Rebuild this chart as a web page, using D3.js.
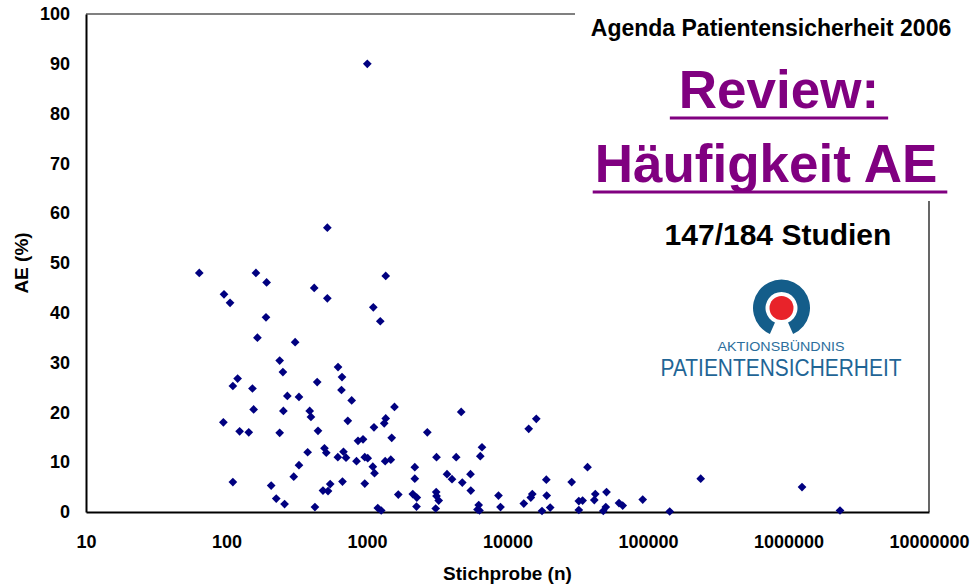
<!DOCTYPE html>
<html>
<meta charset="utf-8">
<script src="https://d3js.org/d3.v7.min.js"></script>
<style>
  body { margin: 0; background: #fff; }
  text { font-family: Arial, "Liberation Sans", sans-serif; }
</style>
<body>
<div id="vis"></div>
<script>

// sample size (n) and adverse event rate (%) per study
const sampleSize = [
  64, 162, 193, 96, 106, 191, 166, 308, 239, 522,
  421, 522, 1359, 1109, 1243, 1005, 622, 664, 658, 778,
  442, 252, 120, 111, 153, 271, 328, 1569, 156, 254,
  391, 399, 730, 95, 1359, 1326, 1121, 124, 144, 239,
  448, 863, 937, 1499, 498, 513, 680, 620, 709, 842,
  964, 1012, 1347, 1477, 378, 328, 1100, 1131, 301, 111,
  208, 669, 547, 964, 486, 528, 226, 259, 426, 1193,
  1262, 1670, 4682, 2687, 14154, 16032, 6583, 6402, 3124, 4313,
  2189, 2189, 3711, 4027, 5453, 4767, 5480, 2118, 2262, 2251,
  3108, 3124, 3238, 3083, 6237, 6116, 6319, 8627, 8915, 13062,
  14648, 15014, 18891, 19011, 20130, 17600, 28637, 37110, 32180, 34240,
  32180, 42150, 41470, 50660, 50080, 48070, 62170, 66060, 91690, 142700,
  237200, 1248000, 2326000
];
const aeRate = [
  48.0, 48.0, 46.1, 43.7, 42.0, 39.1, 35.0, 34.1, 30.4, 57.1,
  45.0, 42.9, 47.4, 41.1, 38.3, 90.0, 29.1, 27.1, 24.5, 22.4,
  26.1, 28.1, 26.8, 25.3, 24.8, 23.3, 23.1, 21.1, 20.6, 20.3,
  20.3, 19.1, 18.3, 18.0, 18.8, 17.8, 17.0, 16.2, 16.0, 15.9,
  16.3, 14.3, 14.6, 14.9, 12.8, 11.9, 12.1, 11.0, 10.9, 10.2,
  11.0, 10.8, 10.2, 10.5, 12.0, 9.4, 9.1, 7.8, 7.1, 6.0,
  5.3, 6.1, 5.6, 5.7, 4.3, 4.2, 2.7, 1.6, 1.0, 0.8,
  0.3, 3.5, 20.1, 16.0, 16.7, 18.7, 13.0, 11.2, 11.0, 11.0,
  9.0, 6.7, 7.6, 6.6, 7.6, 5.9, 4.3, 3.6, 2.9, 1.1,
  4.0, 3.2, 2.3, 0.7, 1.4, 0.5, 0.3, 3.3, 1.0, 1.7,
  2.9, 3.6, 6.5, 3.3, 0.9, 0.2, 6.0, 9.0, 2.2, 2.3,
  0.4, 3.6, 2.4, 4.0, 1.0, 0.2, 1.8, 1.3, 2.5, 0.1,
  6.7, 5.0, 0.3
];

const xTicks = [10, 100, 1000, 10000, 100000, 1000000, 10000000];
const yTicks = [0, 10, 20, 30, 40, 50, 60, 70, 80, 90, 100];

const total_width = 973,
    total_height = 587,
    margin = {top: 14, right: 44, bottom: 75, left: 86},
    width = total_width - margin.left - margin.right,
    height = total_height - margin.top - margin.bottom;

const root = d3.select("#vis")
  .append("svg")
    .attr("width", total_width)
    .attr("height", total_height);

const svg = root.append("g")
    .attr("transform", `translate(${margin.left},${margin.top})`);

const x_scale = d3.scaleLog()
  .domain([10, 10000000])
  .range([0, width]);

const y_scale = d3.scaleLinear()
  .domain([0, 100])
  .range([height, 0]);

// plot frame: grey top, black right
svg.append("line")
  .attr("x1", 0).attr("x2", width)
  .attr("y1", 0).attr("y2", 0)
  .attr("stroke", "#808080")
  .attr("stroke-width", 2);
svg.append("line")
  .attr("x1", width).attr("x2", width)
  .attr("y1", 0).attr("y2", height)
  .attr("stroke", "#000")
  .attr("stroke-width", 1.2);

// white title box sitting over the top right corner
root.append("rect")
  .attr("x", 575).attr("y", 0)
  .attr("width", 398).attr("height", 201)
  .attr("fill", "#fff");

// axes
const xAxis = svg.append("g")
  .attr("transform", `translate(0, ${height})`)
  .call(d3.axisBottom(x_scale)
    .tickValues(xTicks)
    .tickFormat(d3.format("d"))
    .tickSize(0)
    .tickPadding(23));

const yAxis = svg.append("g")
  .call(d3.axisLeft(y_scale)
    .tickValues(yTicks)
    .tickSize(0)
    .tickPadding(16));

xAxis.select(".domain").attr("stroke", "#000").attr("stroke-width", 1.8);
yAxis.select(".domain").attr("stroke", "#000").attr("stroke-width", 2);
[xAxis, yAxis].forEach(a => a.selectAll("text")
  .style("font-family", "Arial, 'Liberation Sans', sans-serif")
  .style("font-size", "18px")
  .style("font-weight", "bold")
  .attr("fill", "#000"));

// axis titles
svg.append("text")
  .attr("x", width / 2)
  .attr("y", height + 68)
  .attr("text-anchor", "middle")
  .style("font-size", "19px")
  .style("font-weight", "bold")
  .text("Stichprobe (n)");

svg.append("text")
  .attr("transform", `translate(${28 - margin.left}, ${height / 2}) rotate(-90)`)
  .attr("text-anchor", "middle")
  .style("font-size", "19px")
  .style("font-weight", "bold")
  .text("AE (%)");

// points
const points = sampleSize.map((n, i) => ({n: n, ae: aeRate[i]}));
svg.append("g")
  .selectAll("path")
  .data(points)
  .join("path")
    .attr("d", d3.symbol(d3.symbolSquare, 38))
    .attr("transform", d => `translate(${x_scale(d.n)},${y_scale(d.ae)}) rotate(45)`)
    .attr("fill", "#000080");

// title block
root.append("text")
  .attr("x", 771).attr("y", 36)
  .attr("text-anchor", "middle")
  .style("font-size", "23px")
  .style("font-weight", "bold")
  .text("Agenda Patientensicherheit 2006");

const purple = "#800080";
const review = root.append("text")
  .attr("x", 779).attr("y", 108)
  .attr("text-anchor", "middle")
  .style("font-size", "53px")
  .style("font-weight", "bold")
  .attr("fill", purple)
  .text("Review:");

const haeuf = root.append("text")
  .attr("x", 766).attr("y", 182)
  .attr("text-anchor", "middle")
  .style("font-size", "53px")
  .style("font-weight", "bold")
  .attr("fill", purple)
  .text("Häufigkeit AE");

// underlines (PowerPoint style, a bit wider than the words)
const b1 = review.node().getBBox();
root.append("line")
  .attr("x1", b1.x - 9).attr("x2", b1.x + b1.width + 9)
  .attr("y1", 118).attr("y2", 118)
  .attr("stroke", purple).attr("stroke-width", 3);
const b2 = haeuf.node().getBBox();
root.append("line")
  .attr("x1", b2.x - 2).attr("x2", b2.x + b2.width + 10)
  .attr("y1", 192).attr("y2", 192)
  .attr("stroke", purple).attr("stroke-width", 3);

root.append("text")
  .attr("x", 778).attr("y", 245)
  .attr("text-anchor", "middle")
  .style("font-size", "30px")
  .style("font-weight", "bold")
  .text("147/184 Studien");

// Aktionsbuendnis logo
const logo = root.append("g")
  .attr("transform", "translate(781.5, 308)");
const gap = 0.42;
logo.append("path")
  .attr("d", d3.arc()
    .innerRadius(16)
    .outerRadius(28.5)
    .startAngle(Math.PI + gap)
    .endAngle(3 * Math.PI - gap)())
  .attr("fill", "#145d8a");
logo.append("circle")
  .attr("r", 12)
  .attr("fill", "#e8232a");

root.append("text")
  .attr("x", 781).attr("y", 351)
  .attr("text-anchor", "middle")
  .attr("textLength", 127)
  .attr("lengthAdjust", "spacingAndGlyphs")
  .style("font-size", "13px")
  .attr("fill", "#2c6e9c")
  .text("AKTIONSBÜNDNIS");

root.append("text")
  .attr("x", 781).attr("y", 376)
  .attr("text-anchor", "middle")
  .attr("textLength", 241)
  .attr("lengthAdjust", "spacingAndGlyphs")
  .style("font-size", "23px")
  .attr("fill", "#1f6596")
  .text("PATIENTENSICHERHEIT");

</script>
</body>
</html>
